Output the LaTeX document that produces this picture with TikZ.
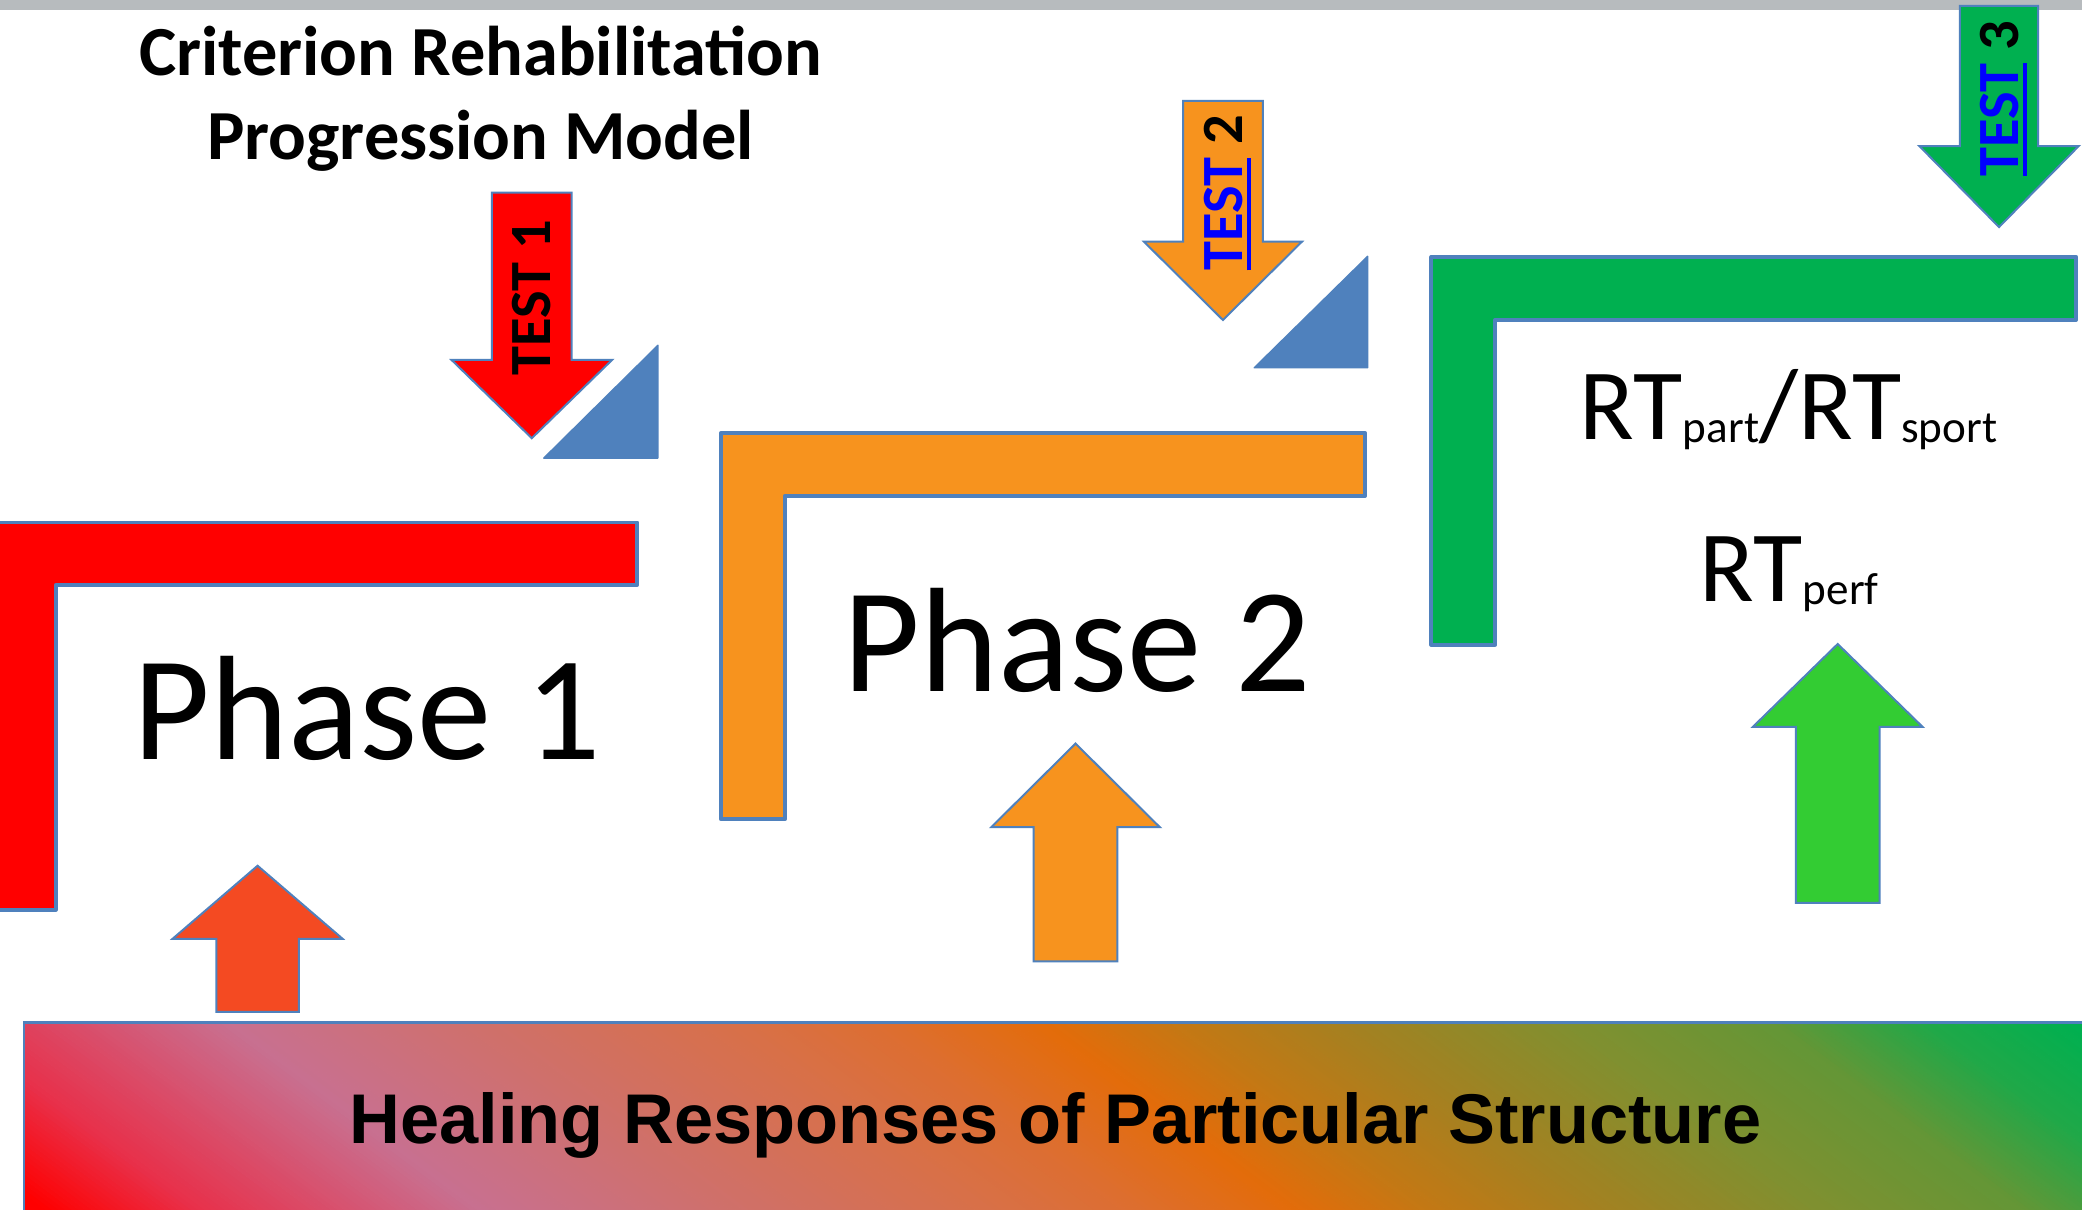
\documentclass[tikz,border=0pt]{standalone}
\usepackage{fontspec}
\setmainfont{Carlito}
\newfontfamily\crpArial{Liberation Sans}
\definecolor{crpBlue}{HTML}{4F81BD}
\definecolor{crpGray}{HTML}{B7BBBE}
\definecolor{crpRed}{HTML}{FF0000}
\definecolor{crpOrange}{HTML}{F7931E}
\definecolor{crpGreen}{HTML}{00B050}
\definecolor{crpRedOr}{HTML}{F44A22}
\definecolor{crpLight}{HTML}{33CC33}
\definecolor{crpLink}{HTML}{0000FF}
\definecolor{hcA}{HTML}{FF0000}
\definecolor{hcB}{HTML}{E8304A}
\definecolor{hcC}{HTML}{C87090}
\definecolor{hcD}{HTML}{D07066}
\definecolor{hcE}{HTML}{D87048}
\definecolor{hcF}{HTML}{DD6E30}
\definecolor{hcG}{HTML}{E36C0A}
\definecolor{hcH}{HTML}{C47814}
\definecolor{hcI}{HTML}{A68020}
\definecolor{hcJ}{HTML}{809030}
\definecolor{hcK}{HTML}{649636}
\definecolor{hcL}{HTML}{20A848}
\definecolor{hcM}{HTML}{00B050}
% block arrow: #1 style, #2 cx, #3 shaft end y, #4 shaft half width, #5 head base y, #6 head half width, #7 tip y
\newcommand\crpArrow[7]{%
  \path[#1] ({#2-#4},{#3}) -- ({#2+#4},{#3}) -- ({#2+#4},{#5}) -- ({#2+#6},{#5})
    -- ({#2},{#7}) -- ({#2-#6},{#5}) -- ({#2-#4},{#5}) -- cycle;}
\newcommand\crpUnder[1]{\setbox0=\hbox{#1}\rlap{\rule[-5.9pt]{\wd0}{2.4pt}}\box0}
\begin{document}
\begin{tikzpicture}[x=1pt,y=-1pt,
  lshape/.style={draw=crpBlue,line width=3pt,line join=round},
  blockarr/.style={draw=crpBlue,line width=1.5pt,line join=miter},
  corner/.style={fill=crpBlue,draw=crpBlue,line width=1pt,line join=round},
  titletext/.style={font=\fontsize{53}{63}\selectfont\bfseries,inner sep=0pt,anchor=base},
  phasetext/.style={font=\fontsize{112}{134}\selectfont,inner sep=0pt,anchor=base},
  rttext/.style={font=\fontsize{76}{90}\selectfont,inner sep=0pt,anchor=base},
  testtext/.style={font=\fontsize{44}{52}\selectfont\bfseries,inner sep=0pt,anchor=base,rotate=90},
  healtext/.style={font=\crpArial\fontsize{53}{63}\selectfont\bfseries,inner sep=0pt,anchor=base}]
\useasboundingbox (0,0) rectangle (1568,911);
\clip (0,0) rectangle (1568,911);
\fill[white] (0,0) rectangle (1568,911);
% top gray bar
\fill[crpGray] (0,0) rectangle (1568,7.5);
% title
\node[titletext] (title1) at (362,57) {Criterion Rehabilitation};
\node[titletext] (title2) at (362,120) {Progression Model};
% L shapes
\path[lshape,fill=crpRed] (-6,393.5) -- (480,393.5) -- (480,440.5) -- (42,440.5) -- (42,685) -- (-6,685) -- cycle;
\path[lshape,fill=crpOrange] (543,326) -- (1028,326) -- (1028,373.5) -- (591,373.5) -- (591,617) -- (543,617) -- cycle;
\path[lshape,fill=crpGreen] (1078,193.5) -- (1563.5,193.5) -- (1563.5,241) -- (1126,241) -- (1126,485.5) -- (1078,485.5) -- cycle;
% blue corner triangles
\path[corner] (409.5,345) -- (495.5,260) -- (495.5,345) -- cycle;
\path[corner] (944.5,277) -- (1030,193) -- (1030,277) -- cycle;
% down arrows (tests)
\crpArrow{blockarr,fill=crpRed}{400.5}{145}{30}{271}{60.5}{330}
\crpArrow{blockarr,fill=crpOrange}{921}{76}{30}{182}{59.5}{241}
\crpArrow{blockarr,fill=crpGreen}{1505.5}{4.5}{29.5}{110}{60}{171}
% up arrows
\crpArrow{blockarr,fill=crpRedOr}{194}{762}{31}{707}{64}{652}
\crpArrow{blockarr,fill=crpOrange}{810}{724}{31.5}{623}{63.5}{560}
\crpArrow{blockarr,fill=crpLight}{1384}{680}{31.5}{547.5}{64}{485}
% test labels
\node[testtext] (test1) at (414.6,224) {TEST 1};
\node[testtext] (test2) at (936,145) {{\color{crpLink}\crpUnder{TEST}} 2};
\node[testtext] (test3) at (1520.4,74) {{\color{crpLink}\crpUnder{TEST}} 3};
% phase labels
\node[phasetext] (phase1) at (276.5,572) {Phase 1};
\node[phasetext] (phase2) at (811,521) {Phase 2};
% RT labels
\node[rttext] (rt1) at (1347,331) {RT\raisebox{-2pt}{\fontsize{34}{40}\selectfont part}/RT\raisebox{-2pt}{\fontsize{34}{40}\selectfont sport}};
\node[rttext] (rt2) at (1347.5,453) {RT\raisebox{-2pt}{\fontsize{34}{40}\selectfont perf}};
% healing gradient box: tilted colour bands
\begin{scope}
\clip (18,770) rectangle (1570,912);
\foreach \xa/\ca/\xb/\cb in {-220/hcA/-60/hcA, -60/hcA/55/hcB, 55/hcB/265/hcC, 265/hcC/480/hcD,
    480/hcD/650/hcE, 650/hcE/760/hcF, 760/hcF/880/hcG, 880/hcG/980/hcH, 980/hcH/1100/hcI,
    1100/hcI/1275/hcJ, 1275/hcJ/1430/hcK, 1430/hcK/1545/hcL, 1545/hcL/1655/hcM, 1655/hcM/1800/hcM} {
  \pgfmathtruncatemacro\crpN{max(1,round((\xb-\xa)/5))}
  \foreach \k in {1,...,\crpN} {
    \pgfmathsetmacro\crpPa{\xa+(\k-1)*(\xb-\xa)/\crpN}
    \pgfmathsetmacro\crpPb{\xa+\k*(\xb-\xa)/\crpN+0.8}
    \pgfmathtruncatemacro\crpMix{round(100-100*(\k-0.5)/\crpN)}
    \fill[fill={\ca!\crpMix!\cb}] ({\crpPa-95},770) -- ({\crpPb-95},770) -- ({\crpPb+95},912) -- ({\crpPa+95},912) -- cycle;
  }
}
\end{scope}
\draw[crpBlue,line width=2pt] (18,915) -- (18,770) -- (1572,770);
\node[healtext] (heal) at (795,861) {Healing Responses of Particular Structure};
\end{tikzpicture}
\end{document}
